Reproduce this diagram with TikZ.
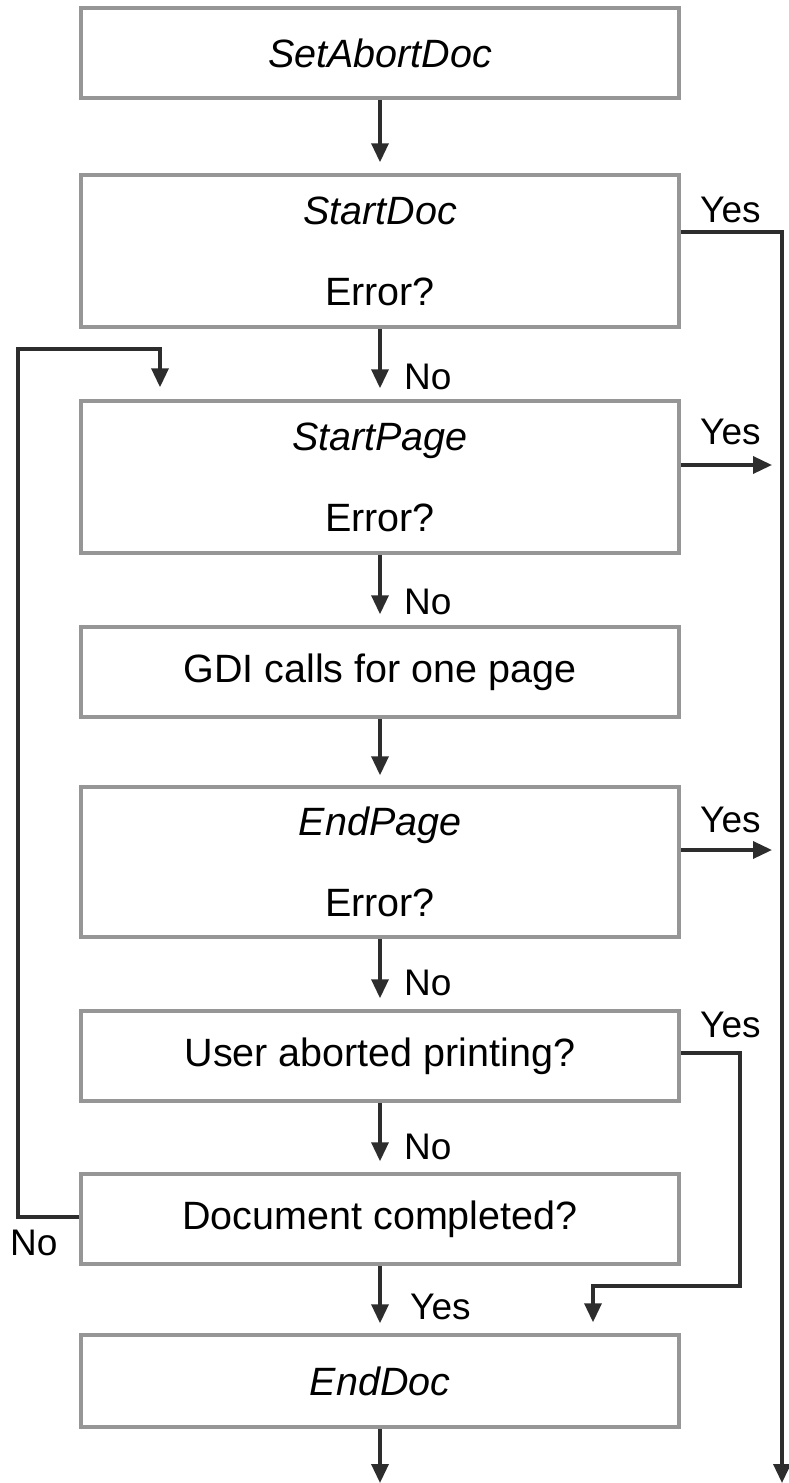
\documentclass[tikz,border=0pt]{standalone}
\usepackage{fontspec}
\setmainfont{Liberation Sans}
\usetikzlibrary{arrows.meta}
\definecolor{boxgray}{RGB}{150,150,150}
\definecolor{linegray}{RGB}{45,45,45}
\begin{document}
\begin{tikzpicture}[x=1pt,y=-1pt,
  box/.style={draw=boxgray, line width=3.5pt, minimum width=598pt, minimum height=90pt,
    inner sep=0pt, font=\fontsize{39.5}{81}\selectfont, align=center, text=black},
  tallbox/.style={box, minimum height=152pt},
  flow/.style={draw=linegray, line width=3.5pt, -{Triangle[length=19pt,width=17pt]}},
  lab/.style={font=\fontsize{37}{40}\selectfont, inner sep=0pt, text=black}]
\useasboundingbox (0,0) rectangle (788,1483);
% boxes
\node[box] (sad) at (380,53) {\textit{SetAbortDoc}};
\node[tallbox] (sdoc) at (380,251) {\textit{StartDoc}\\Error?};
\node[tallbox] (spage) at (380,477) {\textit{StartPage}\\Error?};
\node[box] (gdi) at (380,672) {GDI calls for one page};
\node[tallbox, minimum height=150pt] (epage) at (380,862) {\textit{EndPage}\\Error?};
\node[box] (uab) at (380,1056) {User aborted printing?};
\node[box] (dc) at (380,1219) {Document completed?};
\node[box, minimum height=92pt] (edoc) at (380,1381) {\textit{EndDoc}};
% helper coordinates
\coordinate (bot) at (380,1483);
\coordinate (rbot) at (782,1483);
\coordinate (rx) at (782,232);
\coordinate (ua1) at (740,1286);
\coordinate (ua2) at (593,1286);
\coordinate (lt) at (18,349);
\coordinate (lt2) at (160,349);
% main flow
\draw[flow, shorten >=11pt] (sad) -- (sdoc);
\draw[flow, shorten >=11pt] (sdoc) -- (spage);
\draw[flow, shorten >=11pt] (spage) -- (gdi);
\draw[flow, shorten >=10pt] (gdi) -- (epage);
\draw[flow, shorten >=11pt] (epage) -- (uab);
\draw[flow, shorten >=11pt] (uab) -- (dc);
\draw[flow, shorten >=10pt] (dc) -- (edoc);
\draw[flow] (edoc) -- (bot);
% yes branches
\draw[flow] ([yshift=19pt]sdoc.east) -| (rbot);
\draw[flow, shorten >=10pt] ([yshift=12pt]spage.east) -- ([yshift=12pt]spage.east -| rx);
\draw[flow, shorten >=10pt] ([yshift=12pt]epage.east) -- ([yshift=12pt]epage.east -| rx);
\draw[flow, shorten >=11pt] ([yshift=3pt]uab.east) -| (ua1) -- (ua2) -- (ua2 |- edoc.north);
% loop back
\draw[flow, shorten >=12pt] ([yshift=2pt]dc.west) -| (lt) -- (lt2) -- (lt2 |- spage.north);
% labels
\node[lab, anchor=west] (y1) at (700,210) {Yes};
\node[lab, anchor=west] (y2) at (700,432) {Yes};
\node[lab, anchor=west] (y3) at (700,820) {Yes};
\node[lab, anchor=west] (y4) at (700,1025) {Yes};
\node[lab, anchor=west] (n1) at (404,377) {No};
\node[lab, anchor=west] (n2) at (404,602) {No};
\node[lab, anchor=west] (n3) at (404,983) {No};
\node[lab, anchor=west] (n4) at (404,1147) {No};
\node[lab, anchor=west] (y5) at (410,1307) {Yes};
\node[lab, anchor=west] (n5) at (10,1243) {No};
\end{tikzpicture}
\end{document}
